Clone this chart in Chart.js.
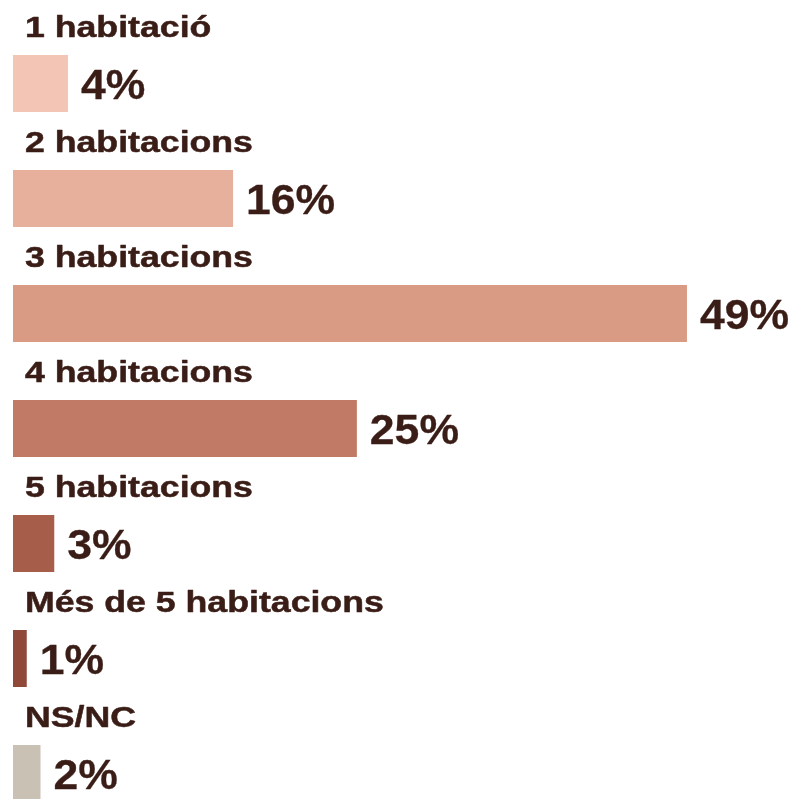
<!DOCTYPE html>
<html>
<head>
<meta charset="utf-8">
<script src="https://cdn.jsdelivr.net/npm/chart.js"></script>
<style>
  html, body { margin: 0; padding: 0; background: #fff; overflow: hidden; }
</style>
</head>
<body>
<canvas id="barChart" width="798" height="831"></canvas>
<script>
// categories and values
const categories = ["1 habitació", "2 habitacions", "3 habitacions", "4 habitacions", "5 habitacions", "Més de 5 habitacions", "NS/NC"];
const values = [4, 16, 49, 25, 3, 1, 2];
const barColors = ["#f2c5b5", "#e6b09c", "#da9b85", "#c17a65", "#a65e4a", "#904939", "#c9c1b4"];

const textColor = "#3a1d16";
const fontFamily = '"Liberation Sans", Arial, Helvetica, sans-serif';

// draws text stretched horizontally, with a light stroke to make it heavier
const drawWide = (ctx, text, x, y, sx, stroke) => {
    ctx.save();
    ctx.translate(x, y);
    ctx.scale(sx, 1);
    ctx.fillText(text, 0, 0);
    if (stroke) {
        ctx.lineWidth = stroke;
        ctx.strokeText(text, 0, 0);
    }
    ctx.restore();
};

// category name above each bar and the percentage to its right
const labelsPlugin = {
    id: "barLabels",
    afterDatasetsDraw(chart) {
        const ctx = chart.ctx;
        const meta = chart.getDatasetMeta(0);
        ctx.save();
        ctx.fillStyle = textColor;
        ctx.strokeStyle = textColor;
        ctx.lineJoin = "round";
        ctx.textBaseline = "alphabetic";
        meta.data.forEach((bar, i) => {
            const { x, y, height } = bar.getProps(["x", "y", "height"], true);
            const top = y - height / 2;

            ctx.font = "bold 29px " + fontFamily;
            drawWide(ctx, categories[i], 25, top - 18, 1.23, 0.5);

            ctx.font = "bold 42px " + fontFamily;
            drawWide(ctx, values[i] + "%", x + 13, y + 15, 1.06, 0.3);
        });
        ctx.restore();
    }
};

const ctx = document.getElementById("barChart");

new Chart(ctx, {
    type: "bar",
    data: {
        labels: categories,
        datasets: [
            {
                data: values,
                backgroundColor: barColors,
                borderWidth: 0,
                categoryPercentage: 1,
                barPercentage: 57 / 115,
            },
        ],
    },
    options: {
        indexAxis: "y",
        responsive: false,
        animation: false,
        layout: {
            padding: { top: 26, left: 13, right: 1, bottom: 0 },
        },
        plugins: {
            legend: { display: false },
            tooltip: { enabled: false },
        },
        scales: {
            x: {
                display: false,
                min: 0,
                max: 57,
            },
            y: {
                display: false,
            },
        },
    },
    plugins: [labelsPlugin],
});
</script>
</body>
</html>
